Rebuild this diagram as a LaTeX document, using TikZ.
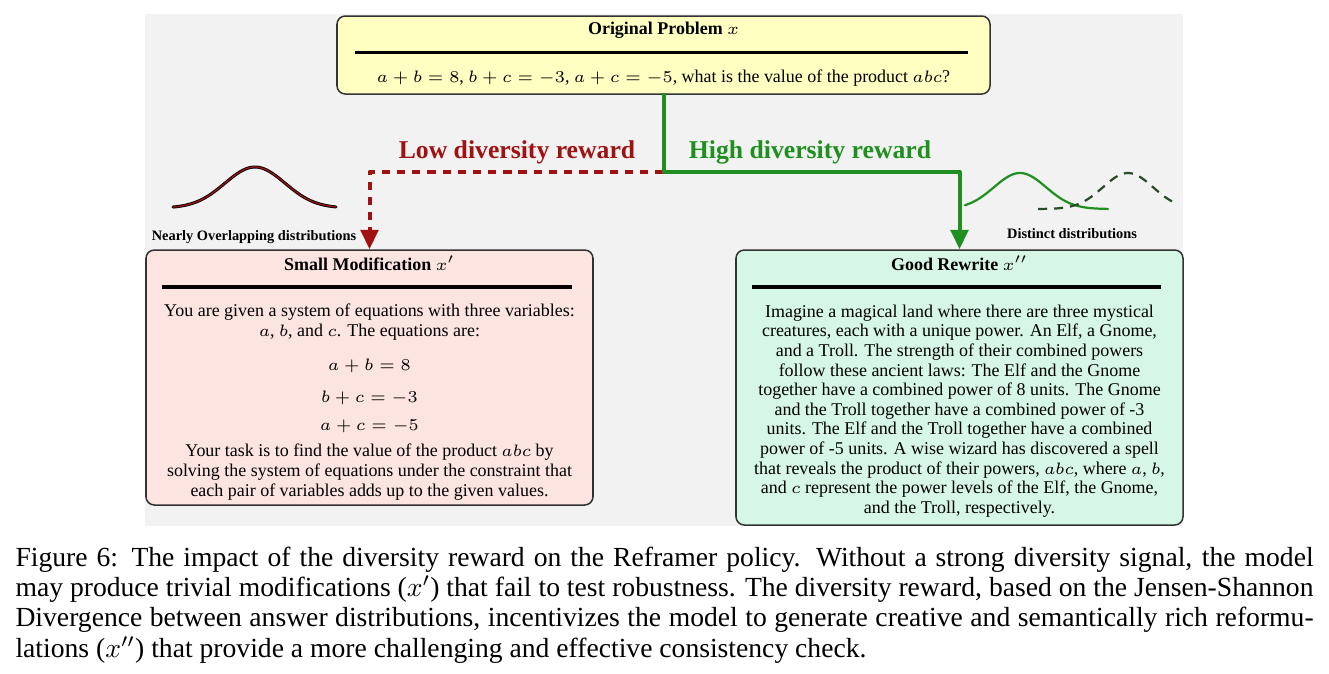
\documentclass[tikz,border=0pt]{standalone}
\usepackage{amsmath}
\usepackage{fontspec}
\setmainfont{Liberation Serif}
\usepackage{tikz}
\usetikzlibrary{arrows.meta, calc}

\definecolor{panelgrey}{HTML}{F2F2F2}
\definecolor{boxborder}{HTML}{333333}
\definecolor{probyellow}{HTML}{FFFFC2}
\definecolor{modpink}{HTML}{FCE4E0}
\definecolor{rewritemint}{HTML}{D6F7E6}
\definecolor{lowred}{HTML}{A01212}
\definecolor{highgreen}{HTML}{1F8F1F}
\definecolor{distgreen}{HTML}{2A4A2A}

\newcommand{\pxu}{0.362pt}

\begin{document}
\begin{tikzpicture}[x=0.362pt, y=-0.362pt, line cap=round, line join=round,
  card/.style={draw=boxborder, line width=0.55pt, rounded corners=3pt, inner sep=0pt},
  cardtitle/.style={font=\fontsize{6.5}{7.1}\selectfont\bfseries, inner sep=0pt},
  cardtext/.style={font=\fontsize{6.5}{7.1}\selectfont, align=center, inner sep=0pt},
  cardrule/.style={line width=1.4pt, line cap=butt},
  reward/.style={font=\fontsize{9.3}{10}\selectfont\bfseries, inner sep=0pt},
  distlabel/.style={font=\fontsize{5.2}{6}\selectfont\bfseries, inner sep=0pt},
  arrowhd/.style={-{Triangle[width=6.3pt,length=7pt]}},
  lowline/.style={lowred, line width=1.45pt, line cap=butt, dash pattern=on 3pt off 2.5pt},
  highline/.style={highgreen, line width=1.45pt}]

\useasboundingbox (0,0) rectangle (1329,673);

% --- Sfondo ---
\fill[panelgrey] (145,14) rectangle (1183,526);

% --- Problema originale ---
\node[card, fill=probyellow, minimum width=653*\pxu, minimum height=78*\pxu] (orig) at (663.5,55) {};
\node[cardtitle] (origtitle) at (663.5,30.5) {Original Problem $x$};
\draw[cardrule] (355,52.5) -- (968,52.5);
\node[cardtext] (origbody) at (663.5,78.5)
  {$a+b=8$, $b+c=-3$, $a+c=-5$, what is the value of the product $abc$?};

% --- Piccola modifica ---
\node[card, fill=modpink, minimum width=447*\pxu, minimum height=255*\pxu] (small) at (369.5,377.5) {};
\node[cardtitle] (smalltitle) at (369.5,263.5) {Small Modification $x'$};
\draw[cardrule] (162,287) -- (572,287);
\node[cardtext] (smallbody) at (369.5,402)
  {You are given a system of equations with three variables:\\
   $a$, $b$, and $c$. The equations are:\\[5.4pt]
   $a+b=8$\\[4.5pt]
   $b+c=-3$\\[3pt]
   $a+c=-5$\\[2.4pt]
   Your task is to find the value of the product $abc$ by\\
   solving the system of equations under the constraint that\\
   each pair of variables adds up to the given values.};

% --- Buona riscrittura ---
\node[card, fill=rewritemint, minimum width=447*\pxu, minimum height=275*\pxu] (good) at (959.5,387.5) {};
\node[cardtitle] (goodtitle) at (959.5,263.5) {Good Rewrite $x''$};
\draw[cardrule] (752,287) -- (1161,287);
\node[cardtext] (goodbody) at (959.5,411)
  {Imagine a magical land where there are three mystical\\
   creatures, each with a unique power. An Elf, a Gnome,\\
   and a Troll. The strength of their combined powers\\
   follow these ancient laws: The Elf and the Gnome\\
   together have a combined power of 8 units. The Gnome\\
   and the Troll together have a combined power of -3\\
   units. The Elf and the Troll together have a combined\\
   power of -5 units. A wise wizard has discovered a spell\\
   that reveals the product of their powers, $abc$, where $a$, $b$,\\
   and $c$ represent the power levels of the Elf, the Gnome,\\
   and the Troll, respectively.};

% --- Collegamenti ---
\coordinate (split) at ($(orig.south)+(0,77)$);
\draw[lowline, arrowhd] (split) -| (small.north);
\draw[highline, arrowhd] (orig.south) -- (split) -| (good.north);

\node[reward, text=lowred] (lowlabel) at (517,152) {Low diversity reward};
\node[reward, text=highgreen] (highlabel) at (810,152) {High diversity reward};

% --- Distribuzioni ---
\draw[line width=1.1pt, black] plot[domain=173:336, samples=60, smooth]
  (\x, {208-41*exp(-0.5*((\x-255)/30)*((\x-255)/30))});
\draw[line width=0.45pt, lowred] plot[domain=173:336, samples=60, smooth]
  (\x, {208-41*exp(-0.5*((\x-255)/30)*((\x-255)/30))});
\node[distlabel] (overlaplabel) at (254,237) {Nearly Overlapping distributions};

\draw[line width=0.8pt, highgreen] plot[domain=965:1108, samples=60, smooth]
  (\x, {209-36*exp(-0.5*((\x-1020)/26)*((\x-1020)/26))});
\draw[line width=0.8pt, distgreen, line cap=butt, dash pattern=on 3.3pt off 2.5pt]
  plot[domain=1038:1175, samples=60, smooth]
  (\x, {209-36*exp(-0.5*((\x-1128)/25)*((\x-1128)/25))});
\node[distlabel] (distinctlabel) at (1072,234) {Distinct distributions};

% --- Didascalia ---
\node[anchor=north west, text width=1298*\pxu, align=justify, inner sep=0pt,
  font=\fontsize{10}{11}\selectfont] (caption) at (15,546)
  {Figure 6: The impact of the diversity reward on the Reframer policy.  Without a strong diversity signal, the model\linebreak
   may produce trivial modifications ($x'$) that fail to test robustness. The diversity reward, based on the Jensen-Shannon\linebreak
   Divergence between answer distributions, incentivizes the model to generate creative and semantically rich reformu-\linebreak
   lations ($x''$) that provide a more challenging and effective consistency check.};
\end{tikzpicture}
\end{document}
